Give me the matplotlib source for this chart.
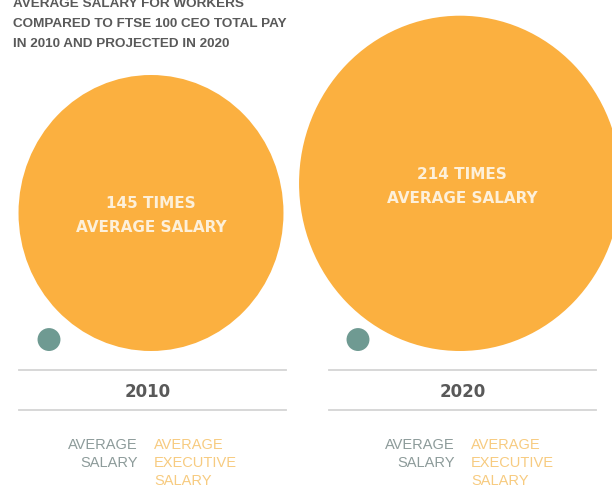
import numpy as np
import matplotlib.pyplot as plt
from matplotlib.patches import Ellipse

years = ['2010', '2020']
ceo_multiple = [145, 214]
avg_salary = 1
title_lines = ['AVERAGE SALARY FOR WORKERS',
               'COMPARED TO FTSE 100 CEO TOTAL PAY',
               'IN 2010 AND PROJECTED IN 2020']

orange = '#FBB040'
teal = '#6F9A92'
dark = '#595959'
font = 'Liberation Sans'

fig = plt.figure(figsize=(6.12, 4.89), dpi=100)
ax = fig.add_axes([0, 0, 1, 1])
ax.set_xlim(0, 612)
ax.set_ylim(489, 0)
ax.axis('off')

col_x = [151, 460]
base_y = 352
k = 138 / np.sqrt(ceo_multiple[0])   # radius scale, area ~ value
squash = 0.96

for i, yr in enumerate(years):
    cx = col_x[i]
    r = k * np.sqrt(ceo_multiple[i])
    ax.add_patch(Ellipse((cx, base_y - r), 2 * r * squash, 2 * r, color=orange, lw=0))
    rd = k * np.sqrt(avg_salary)
    ax.add_patch(Ellipse((cx - 102, base_y - rd), 2 * rd, 2 * rd, color=teal, lw=0))

    # label inside the big circle
    ty = base_y - r + 2
    ax.text(cx + 2 * i, ty - 12, f'{ceo_multiple[i]} TIMES', color='#FDF0DA', fontsize=11,
            fontweight='bold', ha='center', va='center')
    ax.text(cx + 2 * i, ty + 12, 'AVERAGE SALARY', color='#FDF0DA', fontsize=11,
            fontweight='bold', ha='center', va='center')

    x0, x1 = (19, 286) if i == 0 else (329, 596)
    ax.plot([x0, x1], [371, 371], color='#d4d4d4', lw=1.3)
    ax.plot([x0, x1], [411, 411], color='#d4d4d4', lw=1.3)
    ax.text((x0 + x1) / 2 - 5 * (1 - i), 392, yr, color=dark, fontsize=12,
            fontweight='bold', ha='center', va='center')

    split = 146 if i == 0 else 463
    ax.text(split - 8, 438, 'AVERAGE\nSALARY', color='#8D9B9A', fontsize=10.5,
            family=font, ha='right', va='top', linespacing=1.38)
    ax.text(split + 8, 438, 'AVERAGE\nEXECUTIVE\nSALARY', color='#F7CB80', fontsize=10.5,
            family=font, ha='left', va='top', linespacing=1.38)

for j, line in enumerate(title_lines):
    ax.text(13, 7 + 20 * j, line, color=dark, fontsize=9.7, fontweight='bold',
            family=font, ha='left', va='baseline')

fig.savefig('out.png', dpi=100)
